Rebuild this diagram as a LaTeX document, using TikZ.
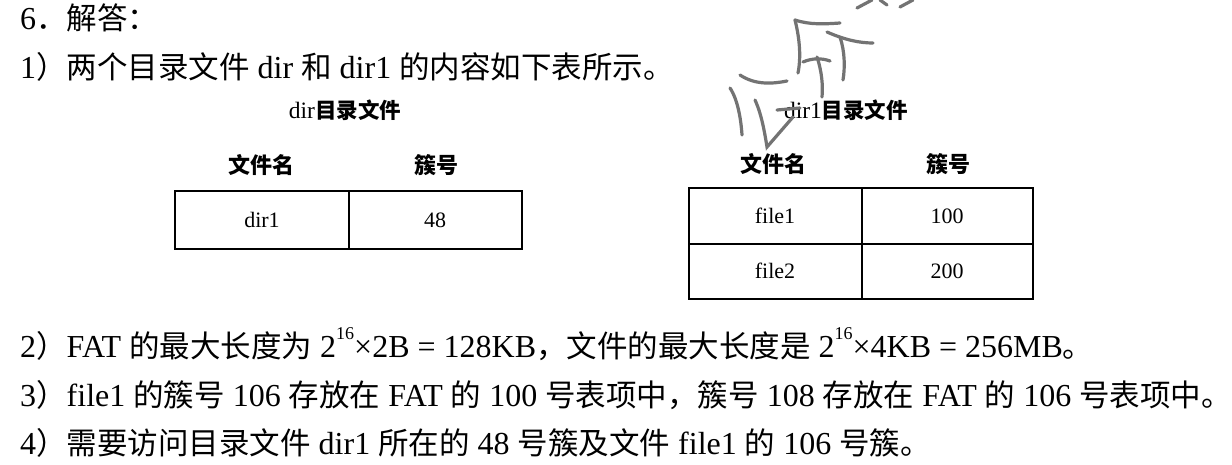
\documentclass[tikz,border=0pt]{standalone}
\usepackage{fontspec}
\setmainfont{Liberation Serif}
\newfontfamily\cjk{Noto Sans CJK SC}
\newcommand\zh[1]{{\cjk\fontsize{30.5}{31}\selectfont #1}}
\newcommand\zt[1]{{\cjk\fontsize{21.5}{22}\selectfont\bfseries #1}}
\newcommand\supx[1]{\raisebox{0.55em}{\fontsize{18}{18}\selectfont #1}}
\tikzset{
  txt/.style={anchor=base west,inner sep=0pt,font=\fontsize{32}{34}\selectfont},
  ttl/.style={inner sep=0pt,font=\fontsize{23.5}{24}\selectfont},
  hdr/.style={inner sep=0pt,font=\cjk\fontsize{22}{24}\selectfont\bfseries},
  cell/.style={draw,line width=2pt,inner sep=0pt,font=\fontsize{22}{24}\selectfont},
  wm/.style={draw=black!55,line width=3.2pt,line cap=round}
}
\begin{document}
\begin{tikzpicture}[x=1pt,y=-1pt]
\useasboundingbox[fill=white] (0,0) rectangle (1232,464);
% body lines
\node[txt] (l0) at (20,29) {6\zh{．解答：}};
\node[txt] (l1) at (20,78) {1\zh{）两个目录文件} dir \zh{和} dir1 \zh{的内容如下表所示。}};
\node[txt] (l2) at (20,357) {2\zh{）}FAT \zh{的最大长度为} 2\supx{16}×2B = 128KB\zh{，文件的最大长度是} 2\supx{16}×4KB = 256MB\zh{。}};
\node[txt] (l3) at (20,406) {3\zh{）}file1 \zh{的簇号} 106 \zh{存放在} FAT \zh{的} 100 \zh{号表项中，簇号} 108 \zh{存放在} FAT \zh{的} 106 \zh{号表项中。}};
\node[txt] (l4) at (20,454) {4\zh{）需要访问目录文件} dir1 \zh{所在的} 48 \zh{号簇及文件} file1 \zh{的} 106 \zh{号簇。}};
% table 1
\node[ttl] (t1) at (345,110) {dir\zt{目录文件}};
\node[hdr] (h1a) at (261,165) {文件名};
\node[hdr] (h1b) at (436,165) {簇号};
\node[cell,minimum width=174pt,minimum height=58pt] (c1a) at (262,220) {dir1};
\node[cell,minimum width=173pt,minimum height=58pt] (c1b) at (435,220) {48};
% table 2
\node[ttl] (t2) at (846,110) {dir1\zt{目录文件}};
\node[hdr] (h2a) at (773,164) {文件名};
\node[hdr] (h2b) at (948,164) {簇号};
\node[cell,minimum width=173pt,minimum height=56pt] (c2a) at (775,216) {file1};
\node[cell,minimum width=171pt,minimum height=56pt] (c2b) at (947,216) {100};
\node[cell,minimum width=173pt,minimum height=55pt] (c2c) at (775,271) {file2};
\node[cell,minimum width=171pt,minimum height=55pt] (c2d) at (947,271) {200};
% watermark strokes
\draw[wm] (730,88) .. controls (738,100) and (741,120) .. (742,135);
\draw[wm] (755,100) .. controls (762,115) and (765,135) .. (767,147) -- (793,117);
\draw[wm] (740,75) .. controls (755,85) and (772,84) .. (787,81);
\draw[wm] (795,20) .. controls (800,40) and (801,58) .. (798,73);
\draw[wm] (795,20) .. controls (810,25) and (825,24) .. (840,23);
\draw[wm] (827,32) .. controls (845,40) and (860,43) .. (873,43);
\draw[wm] (840,37) .. controls (845,52) and (845,68) .. (843,80);
\draw[wm] (803,62) .. controls (812,58) and (822,58) .. (830,61);
\draw[wm] (817,57) .. controls (822,72) and (823,86) .. (822,97);
\draw[wm] (777,110) -- (800,108);
\draw[wm] (857,8) -- (872,0);
\draw[wm] (880,0) -- (887,5);
\draw[wm] (900,7) -- (913,0);
\end{tikzpicture}
\end{document}
